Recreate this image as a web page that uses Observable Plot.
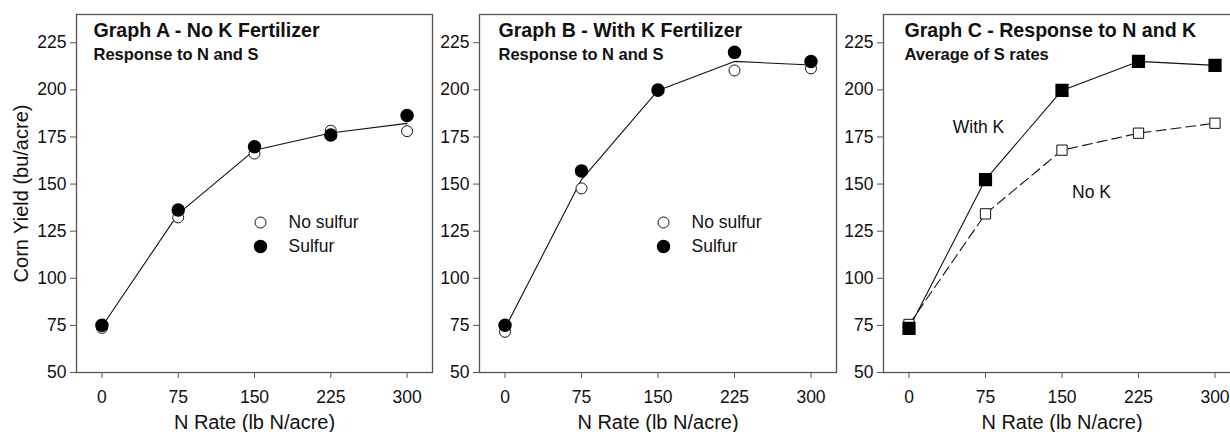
<!DOCTYPE html>
<html>
<head>
<meta charset="utf-8">
<script src="https://cdn.jsdelivr.net/npm/d3@7"></script>
<script src="https://cdn.jsdelivr.net/npm/@observablehq/plot@0.6"></script>
<style>
  html, body { margin: 0; padding: 0; background: #fff; overflow: hidden; }
  #wrap { position: relative; width: 1230px; height: 432px; overflow: hidden; }
  .panel { position: absolute; top: 0; }
  .panel svg { overflow: visible; max-width: none !important; }
</style>
</head>
<body>
<div id="wrap"></div>
<script>
// ---- data ----
const nRates = [0, 75, 150, 225, 300];
const xTicks = [0, 75, 150, 225, 300];
const yTicks = [50, 75, 100, 125, 150, 175, 200, 225];

// Graph A - No K fertilizer
const aNoSulfur = [73.7, 132.3, 166.2, 178.3, 178.1];
const aSulfur   = [75.1, 136.2, 169.8, 176.0, 186.4];
const aFit      = [74.4, 134.2, 168.0, 177.1, 182.2];

// Graph B - With K fertilizer
const bNoSulfur = [71.6, 147.7, 199.5, 210.3, 211.4];
const bSulfur   = [75.1, 157.0, 199.9, 219.9, 215.1];
const bFit      = [73.4, 152.4, 199.7, 215.1, 213.2];

// Graph C - Response to N and K (average of S rates)
const cWithK = [73.4, 152.4, 199.7, 215.1, 213.0];
const cNoK   = [75.5, 134.2, 168.0, 177.0, 182.3];

const titles = [
  ["Graph A - No K Fertilizer", "Response to N and S"],
  ["Graph B - With K Fertilizer", "Response to N and S"],
  ["Graph C - Response to N and K", "Average of S rates"]
];
const legendLabels = ["No sulfur", "Sulfur"];
const annoLabels = ["With K", "No K"];
const xLabel = "N Rate (lb N/acre)";
const yLabel = "Corn Yield (bu/acre)";

// ---- helpers ----
const FONT = "Arial, 'Liberation Sans', Helvetica, sans-serif";
const rows = (ys) => nRates.map((n, i) => ({n, y: ys[i]}));

function basePlot({left, width, marginLeft, marginRight, title, titleDx, showYLabel, marks}) {
  const common = [
    Plot.frame({stroke: "#555", strokeWidth: 1.3}),
    Plot.axisX({ticks: xTicks, tickSize: 6, tickPadding: 12, fontSize: 17.5, stroke: "#555", label: null, tickFormat: d => String(d)}),
    Plot.axisY({ticks: yTicks, tickSize: 6, tickPadding: 4, fontSize: 17.5, stroke: "#555", label: null}),
    Plot.text([xLabel], {text: d => d, frameAnchor: "bottom", dy: 42, lineAnchor: "top", textAnchor: "middle", fontSize: 20, fill: "#111"}),
    Plot.text([title[0]], {text: d => d, frameAnchor: "top-left", dx: titleDx, dy: 9, textAnchor: "start", lineAnchor: "top", fontSize: 19.6, fontWeight: "bold", fill: "#111"}),
    Plot.text([title[1]], {text: d => d, frameAnchor: "top-left", dx: titleDx, dy: 34, textAnchor: "start", lineAnchor: "top", fontSize: 16.5, fontWeight: "bold", fill: "#111"})
  ];
  if (showYLabel) {
    common.push(Plot.text([yLabel], {text: d => d, frameAnchor: "left", dx: -63, rotate: -90, textAnchor: "middle", lineAnchor: "top", fontSize: 20, fill: "#111"}));
  }
  const chart = Plot.plot({
    width, height: 440,
    marginLeft, marginRight, marginTop: 14, marginBottom: 68,
    style: {fontFamily: FONT, color: "#111", background: "white"},
    x: {domain: [-25, 325]},
    y: {domain: [50, 240]},
    marks: [...common, ...marks]
  });
  const div = document.createElement("div");
  div.className = "panel";
  div.style.left = left + "px";
  div.style.width = width + "px";
  div.appendChild(chart);
  document.getElementById("wrap").appendChild(div);
}

function sulfurMarks(noS, withS, fit) {
  return [
    Plot.line(rows(fit), {x: "n", y: "y", stroke: "#111", strokeWidth: 1.1}),
    Plot.dot(rows(noS), {x: "n", y: "y", r: 5.5, fill: "white", stroke: "#111", strokeWidth: 1}),
    Plot.dot(rows(withS), {x: "n", y: "y", r: 6, fill: "black", stroke: "black"}),
    Plot.dot([legendLabels[0]], {frameAnchor: "top-left", dx: 184, dy: 208, r: 5.5, fill: "white", stroke: "#111", strokeWidth: 1}),
    Plot.dot([legendLabels[1]], {frameAnchor: "top-left", dx: 184, dy: 232, r: 6, fill: "black", stroke: "black"}),
    Plot.text([legendLabels[0]], {text: d => d, frameAnchor: "top-left", dx: 212, dy: 208, textAnchor: "start", lineAnchor: "middle", fontSize: 17.5, fill: "#111"}),
    Plot.text([legendLabels[1]], {text: d => d, frameAnchor: "top-left", dx: 212, dy: 232, textAnchor: "start", lineAnchor: "middle", fontSize: 17.5, fill: "#111"})
  ];
}

basePlot({left: 0, width: 440, marginLeft: 76, marginRight: 8, title: titles[0], titleDx: 17, showYLabel: true,
  marks: sulfurMarks(aNoSulfur, aSulfur, aFit)});

basePlot({left: 440, width: 400, marginLeft: 39, marginRight: 4, title: titles[1], titleDx: 19, showYLabel: false,
  marks: sulfurMarks(bNoSulfur, bSulfur, bFit)});

basePlot({left: 840, width: 400, marginLeft: 43, marginRight: 0, title: titles[2], titleDx: 21, showYLabel: false,
  marks: [
    Plot.line(rows(cNoK), {x: "n", y: "y", stroke: "#111", strokeWidth: 1.1, strokeDasharray: "10,5"}),
    Plot.line(rows(cWithK), {x: "n", y: "y", stroke: "#111", strokeWidth: 1.1}),
    Plot.dot(rows(cNoK), {x: "n", y: "y", symbol: "square", r: 5.8, fill: "white", stroke: "#111", strokeWidth: 1}),
    Plot.dot(rows(cWithK), {x: "n", y: "y", symbol: "square", r: 6.6, fill: "black", stroke: "black"}),
    Plot.text([annoLabels[0]], {text: d => d, frameAnchor: "top-left", dx: 95, dy: 113, textAnchor: "middle", lineAnchor: "middle", fontSize: 17.5, fill: "#111"}),
    Plot.text([annoLabels[1]], {text: d => d, frameAnchor: "top-left", dx: 208, dy: 178, textAnchor: "middle", lineAnchor: "middle", fontSize: 17.5, fill: "#111"})
  ]});
</script>
</body>
</html>
